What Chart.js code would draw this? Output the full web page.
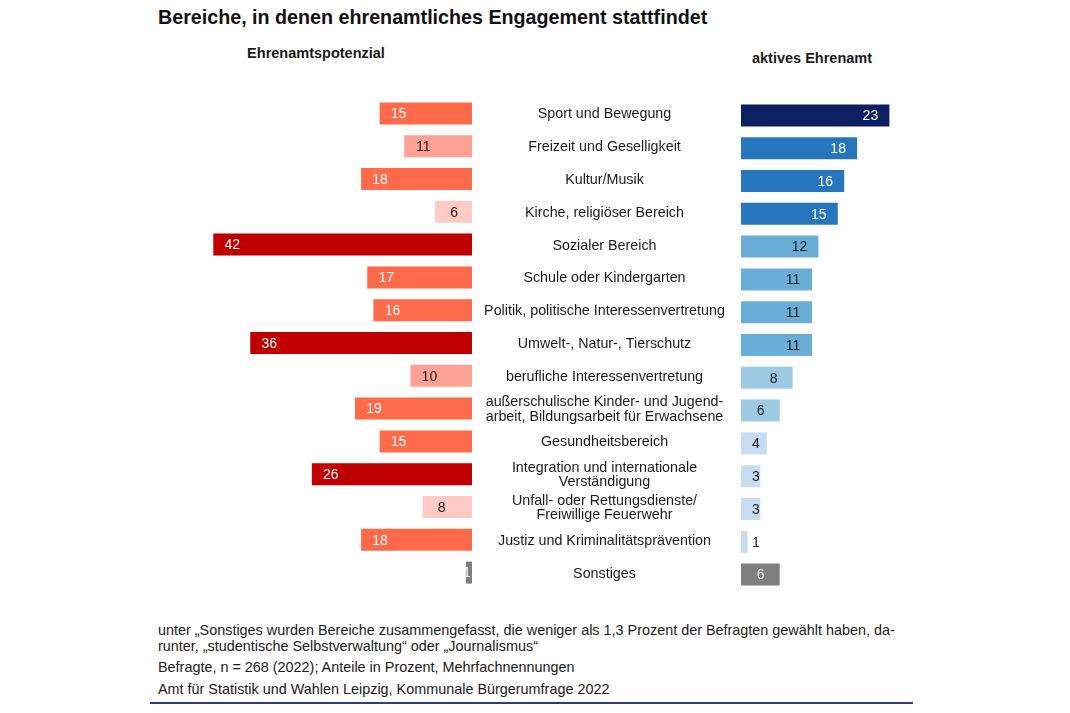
<!DOCTYPE html>
<html>
<head>
<meta charset="utf-8">
<script src="https://cdn.jsdelivr.net/npm/chart.js@4"></script>
<style>
  html, body { margin: 0; padding: 0; background: #fff; }
  body { width: 1070px; height: 713px; position: relative; overflow: hidden;
         font-family: "Liberation Sans", Arial, sans-serif; color: #1a1a1a; }
  .abs { position: absolute; white-space: nowrap; }
  #title { left: 158px; top: 6px; font-size: 19.7px; line-height: 22px; font-weight: bold; color: #111; }
  #subL { left: 316px; top: 44px; font-size: 14.5px; line-height: 18px; font-weight: bold; transform: translateX(-50%); }
  #subR { left: 812px; top: 49px; font-size: 14.5px; line-height: 18px; font-weight: bold; transform: translateX(-50%); }
  .foot { left: 158px; font-size: 14.4px; line-height: 16px; color: #1a1a1a; }
  #f1 { top: 622px; } #f2 { top: 638px; } #f3 { top: 659px; } #f4 { top: 681px; }
  #rule { left: 150px; top: 702px; width: 763px; height: 2px; background: #24399a; }
  #leftWrap { left: 164px; top: 97px; width: 577px; height: 492px; }
  #rightWrap { left: 741px; top: 99px; width: 200px; height: 492px; }
</style>
</head>
<body>
<div id="title" class="abs">Bereiche, in denen ehrenamtliches Engagement stattfindet</div>
<div id="subL" class="abs">Ehrenamtspotenzial</div>
<div id="subR" class="abs">aktives Ehrenamt</div>

<div id="leftWrap" class="abs"><canvas id="left"></canvas></div>
<div id="rightWrap" class="abs"><canvas id="right"></canvas></div>

<div id="f1" class="abs foot">unter „Sonstiges wurden Bereiche zusammengefasst, die weniger als 1,3 Prozent der Befragten gewählt haben, da-</div>
<div id="f2" class="abs foot">runter, „studentische Selbstverwaltung“ oder „Journalismus“</div>
<div id="f3" class="abs foot">Befragte, n = 268 (2022); Anteile in Prozent, Mehrfachnennungen</div>
<div id="f4" class="abs foot">Amt für Statistik und Wahlen Leipzig, Kommunale Bürgerumfrage 2022</div>
<div id="rule" class="abs"></div>

<script>
// ---------- DATA ----------
const categories = [
  "Sport und Bewegung",
  "Freizeit und Geselligkeit",
  "Kultur/Musik",
  "Kirche, religiöser Bereich",
  "Sozialer Bereich",
  "Schule oder Kindergarten",
  "Politik, politische Interessenvertretung",
  "Umwelt-, Natur-, Tierschutz",
  "berufliche Interessenvertretung",
  ["außerschulische Kinder- und Jugend-", "arbeit, Bildungsarbeit für Erwachsene"],
  "Gesundheitsbereich",
  ["Integration und internationale", "Verständigung"],
  ["Unfall- oder Rettungsdienste/", "Freiwillige Feuerwehr"],
  "Justiz und Kriminalitätsprävention",
  "Sonstiges"
];
const potenzial = [15, 11, 18, 6, 42, 17, 16, 36, 10, 19, 15, 26, 8, 18, 1];
const aktiv     = [23, 18, 16, 15, 12, 11, 11, 11, 8, 6, 4, 3, 3, 1, 6];
const otherLabel = "Sonstiges";

// ---------- STYLE ----------
const FONT = '"Liberation Sans", Arial, sans-serif';
Chart.defaults.font.family = FONT;
Chart.defaults.color = '#1a1a1a';

function isOther(i) { return [].concat(categories[i]).join(' ') === otherLabel; }

function leftStyle(v, i) {
  if (isOther(i)) return ['#7f7f7f', '#ffffff'];
  if (v >= 25) return ['#c00000', '#ffffff'];
  if (v >= 13) return ['#ff6a4b', '#ffffff'];
  if (v >= 10) return ['#ffa194', '#1a1a1a'];
  return ['#ffcbc4', '#1a1a1a'];
}
function rightStyle(v, i) {
  if (isOther(i)) return ['#7f7f7f', '#e8e8e8'];
  if (v >= 20) return ['#0c1f63', '#ffffff'];
  if (v >= 13) return ['#2676bd', '#ffffff'];
  if (v >= 10) return ['#6aaed7', '#1a1a1a'];
  if (v >= 5)  return ['#9dcae2', '#1a1a1a'];
  return ['#c7dcf0', '#1a1a1a'];
}

// measure widest category line to centre the labels in the gap
const LABEL_SIZE = 14.3;
const VALUE_SIZE = 14;
const mctx = document.createElement('canvas').getContext('2d');
mctx.font = LABEL_SIZE + 'px ' + FONT;
let widest = 0;
categories.forEach(c => [].concat(c).forEach(l => { widest = Math.max(widest, mctx.measureText(l).width); }));
const GAP = 269;          // width of label column
const CENTER_OFF = 132.5; // label centre offset from left bars' baseline
const tickPad = Math.max(0, CENTER_OFF - widest / 2);

const valuePlugin = {
  id: 'values',
  afterDatasetsDraw(chart, args, opts) {
    const ctx = chart.ctx;
    const meta = chart.getDatasetMeta(0);
    const data = chart.data.datasets[0].data;
    ctx.save();
    ctx.font = VALUE_SIZE + 'px ' + FONT;
    ctx.textAlign = 'center';
    ctx.textBaseline = 'middle';
    meta.data.forEach((bar, i) => {
      const v = data[i];
      const start = bar.base, end = bar.x;
      let x;
      if (opts.side === 'left') x = Math.min(end + 19, start - 5);
      else x = Math.max(end - 19, start + 15);
      ctx.fillStyle = opts.style(v, i)[1];
      ctx.fillText(String(v), x, bar.y + 1);
    });
    ctx.restore();
  }
};

new Chart(document.getElementById('left'), {
  type: 'bar',
  data: {
    labels: categories,
    datasets: [{
      data: potenzial,
      backgroundColor: potenzial.map((v, i) => leftStyle(v, i)[0]),
      barPercentage: 0.67,
      categoryPercentage: 1
    }]
  },
  options: {
    indexAxis: 'y',
    responsive: true,
    maintainAspectRatio: false,
    animation: false,
    layout: { padding: 0 },
    plugins: {
      legend: { display: false },
      tooltip: { enabled: false },
      values: { side: 'left', style: leftStyle }
    },
    scales: {
      x: { reverse: true, min: 0, max: 50, display: false, grid: { display: false } },
      y: {
        position: 'right',
        grid: { display: false, drawTicks: true, tickLength: tickPad },
        border: { display: false },
        afterFit(scale) { scale.width = GAP; scale.paddingTop = 0; scale.paddingBottom = 0; },
        ticks: {
          crossAlign: 'center',
          padding: 0,
          labelOffset: 1,
          color: '#1a1a1a',
          font: { size: LABEL_SIZE, lineHeight: 1.0 },
          autoSkip: false
        }
      }
    }
  },
  plugins: [valuePlugin]
});

new Chart(document.getElementById('right'), {
  type: 'bar',
  data: {
    labels: categories,
    datasets: [{
      data: aktiv,
      backgroundColor: aktiv.map((v, i) => rightStyle(v, i)[0]),
      barPercentage: 0.67,
      categoryPercentage: 1
    }]
  },
  options: {
    indexAxis: 'y',
    responsive: true,
    maintainAspectRatio: false,
    animation: false,
    layout: { padding: 0 },
    plugins: {
      legend: { display: false },
      tooltip: { enabled: false },
      values: { side: 'right', style: rightStyle }
    },
    scales: {
      x: { min: 0, max: 31, display: false, grid: { display: false } },
      y: { display: false }
    }
  },
  plugins: [valuePlugin]
});
</script>
</body>
</html>
